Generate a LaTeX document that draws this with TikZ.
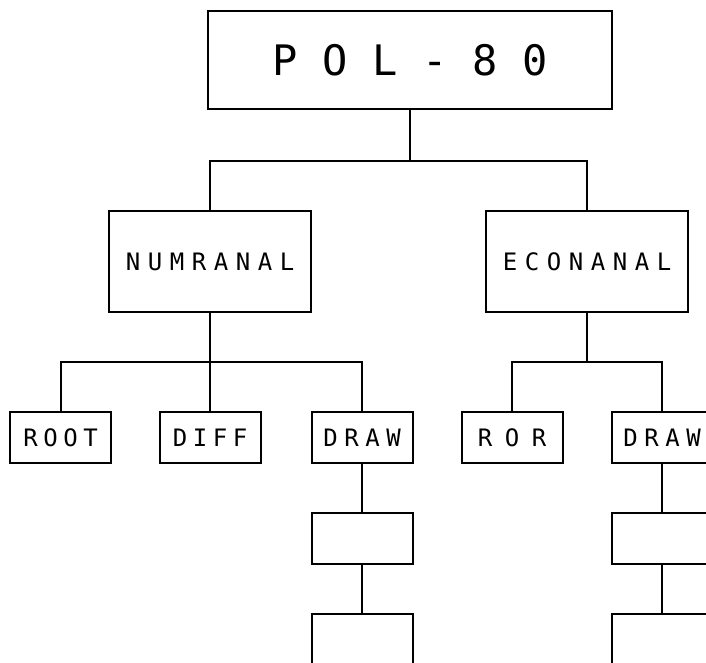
\documentclass[tikz,border=0pt]{standalone}
\usepackage{fontspec}
\newfontfamily\plotter{DejaVu Sans Mono}
\makeatletter
\newcommand\pitched[2]{\@tfor\pc@c:=#2\do{\makebox[#1][c]{\pc@c}}}
\makeatother
\tikzset{
  box/.style={draw, line width=2pt, inner sep=0pt, minimum width=101pt, minimum height=51pt,
              font=\plotter\fontsize{24}{24}\selectfont},
  bigbox/.style={box, minimum width=202pt, minimum height=101pt},
  titlebox/.style={box, minimum width=404pt, minimum height=98pt,
              font=\plotter\fontsize{42}{42}\selectfont},
  link/.style={line width=2pt}
}
\begin{document}
\begin{tikzpicture}[x=1pt,y=-1pt]
\useasboundingbox (0,0) rectangle (706,663);
\fill[white] (0,0) rectangle (706,663);
\clip (0,0) rectangle (706,663);
% level 0
\node[titlebox] (pol) at (410,60) {\raisebox{-7pt}{\pitched{50pt}{POL-80}}};
% level 1
\node[bigbox] (numr) at (210,261.5) {\pitched{22pt}{NUMRANAL}};
\node[bigbox] (econ) at (587,261.5) {\pitched{22pt}{ECONANAL}};
% level 2
\node[box] (root) at (60.5,437.5) {\pitched{20pt}{ROOT}};
\node[box] (diff) at (210,437.5) {\pitched{20pt}{DIFF}};
\node[box] (drawa) at (362,437.5) {\pitched{21pt}{DRAW}};
\node[box] (ror) at (512,437.5) {\pitched{27pt}{ROR}};
\node[box] (drawb) at (662,437.5) {\pitched{21pt}{DRAW}};
% level 3
\node[box] (da1) at (362,538.5) {};
\node[box] (da2) at (362,639.5) {};
\node[box] (db1) at (662,538.5) {};
\node[box] (db2) at (662,639.5) {};
% connectors
\coordinate (j0) at (410,161);
\draw[link] (pol.south) -- (j0);
\draw[link] (j0) -| (numr.north);
\draw[link] (j0) -| (econ.north);
\coordinate (j1) at (210,362);
\draw[link] (numr.south) -- (j1);
\draw[link] (j1) -| (root.north);
\draw[link] (j1) -- (diff.north);
\draw[link] (j1) -| (drawa.north);
\coordinate (j2) at (587,362);
\draw[link] (econ.south) -- (j2);
\draw[link] (j2) -| (ror.north);
\draw[link] (j2) -| (drawb.north);
\draw[link] (drawa.south) -- (da1.north);
\draw[link] (da1.south) -- (da2.north);
\draw[link] (drawb.south) -- (db1.north);
\draw[link] (db1.south) -- (db2.north);
\end{tikzpicture}
\end{document}
